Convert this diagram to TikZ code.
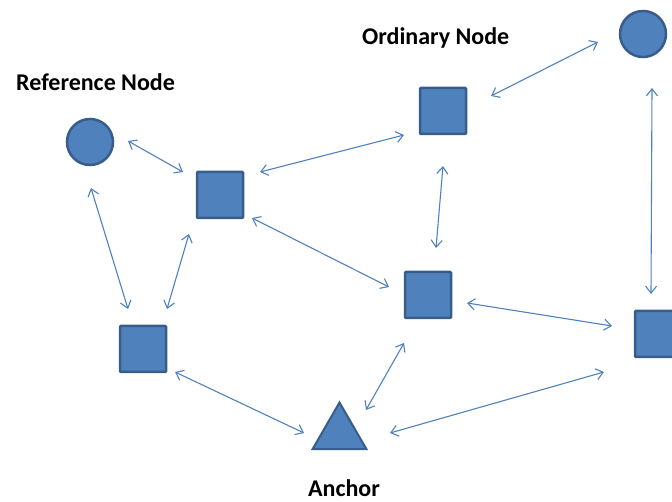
\documentclass[tikz,border=0pt]{standalone}
\usepackage{fontspec}
\setmainfont{Carlito}
\usetikzlibrary{arrows.meta,shapes.geometric}
\definecolor{shapefill}{HTML}{4F81BD}
\definecolor{shapeline}{HTML}{385D8A}
\definecolor{conncol}{HTML}{4F81BD}
\tikzset{
  sq/.style={draw=shapeline,fill=shapefill,line width=2.5pt,minimum size=46pt,inner sep=0pt,rounded corners=1pt},
  circ/.style={circle,draw=shapeline,fill=shapefill,line width=2.5pt,minimum size=46pt,inner sep=0pt},
  tri/.style={regular polygon,regular polygon sides=3,draw=shapeline,fill=shapefill,line width=2pt,minimum size=62pt,inner sep=0pt},
  conn/.style={draw=conncol,line width=1.1pt,{Straight Barb[length=7pt,width=11pt]}-{Straight Barb[length=7pt,width=11pt]}},
  lbl/.style={font=\fontsize{24pt}{26pt}\selectfont\bfseries,anchor=base west,inner sep=0pt}
}
\begin{document}
\begin{tikzpicture}[x=1pt,y=-1pt]
\useasboundingbox (0,0) rectangle (672,502);
% labels
\node[lbl] (reflbl) at (16,91) {Reference Node};
\node[lbl] (ordlbl) at (362,45) {Ordinary Node};
\node[lbl,anchor=base] (anclbl) at (344,496) {Anchor};
% shapes
\node[circ] (c1) at (90,142) {};
\node[circ] (c2) at (643,34) {};
\node[sq] (s1) at (220,195) {};
\node[sq] (s2) at (443,111) {};
\node[sq] (s3) at (143,349) {};
\node[sq] (s4) at (428,295) {};
\node[sq] (s5) at (658,334) {};
\node[tri] (t) at (339.5,433.5) {};
% connectors
\draw[conn] ([shift={(38,-1)}]c1.center) -- ([shift={(-37,-23)}]s1.center);
\draw[conn] ([shift={(1,46)}]c1.center) -- ([shift={(-15,-40)}]s3.center);
\draw[conn] ([shift={(24,-40)}]s3.center) -- ([shift={(-31,39)}]s1.center);
\draw[conn] ([shift={(40,-23)}]s1.center) -- ([shift={(-39,24)}]s2.center);
\draw[conn] ([shift={(32,23)}]s1.center) -- ([shift={(-39,-8)}]s4.center);
\draw[conn] ([shift={(48,-15)}]s2.center) -- ([shift={(-45,8)}]c2.center);
\draw[conn] ([shift={(0,55)}]s2.center) -- ([shift={(8,-47)}]s4.center);
\draw[conn] ([shift={(9,54)}]c2.center) -- ([shift={(-7,-40)}]s5.center);
\draw[conn] ([shift={(39,8)}]s4.center) -- ([shift={(-46,-8)}]s5.center);
\draw[conn] ([shift={(32,23)}]s3.center) -- ([shift={(-35.5,-0.5)}]t.center);
\draw[conn] ([shift={(26.5,-23.5)}]t.center) -- ([shift={(-24,48)}]s4.center);
\draw[conn] ([shift={(50.5,-0.5)}]t.center) -- ([shift={(-54,38)}]s5.center);
\end{tikzpicture}
\end{document}
